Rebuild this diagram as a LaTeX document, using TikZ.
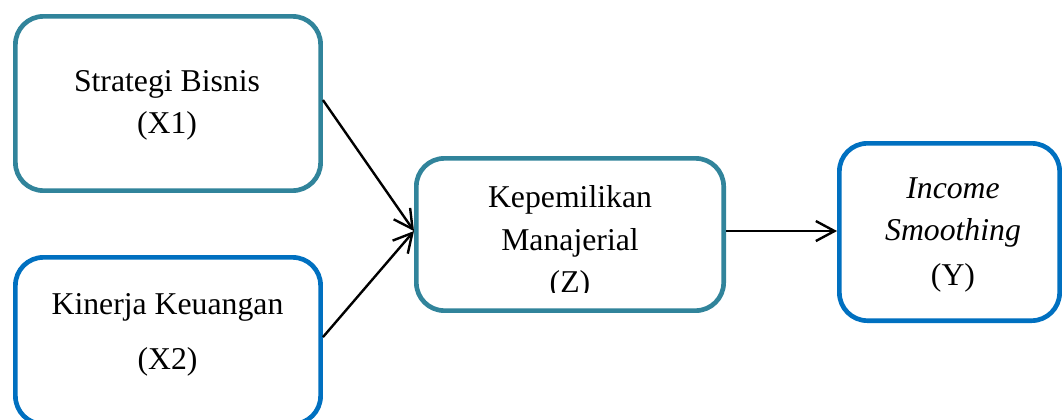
\documentclass[tikz,border=0pt]{standalone}
\usepackage{fontspec}
\setmainfont{Liberation Serif}
\usetikzlibrary{arrows.meta}
\definecolor{tealbox}{HTML}{31849B}
\definecolor{bluebox}{HTML}{0070C0}
\begin{document}
\begin{tikzpicture}[x=0.75pt,y=-0.75pt,
  box/.style={draw, line width=3.5pt, rounded corners=21pt, inner sep=0pt, fill=white},
  lbl/.style={anchor=base, inner sep=0pt, font=\fontsize{23.8pt}{28pt}\selectfont},
  arr/.style={draw=black, line width=1.8pt, -{Straight Barb[length=14pt,width=15pt,line width=1.8pt]}}]
\useasboundingbox (0,0) rectangle (1063,419);

% boxes (sizes given along the stroke centre line)
\node[box, draw=tealbox, minimum width=228.9pt, minimum height=130.7pt] (b1) at (168,103.5) {};
\node[box, draw=bluebox, minimum width=228.9pt, minimum height=125.0pt] (b2) at (168,340.7) {};
\node[box, draw=tealbox, minimum width=230.5pt, minimum height=114.2pt] (bz) at (570,234.5) {};
\node[box, draw=bluebox, minimum width=165.2pt, minimum height=133.0pt] (by) at (949.5,232) {};

% labels
\node[lbl] (t1a) at (167,91)  {Strategi Bisnis};
\node[lbl] (t1b) at (167,133) {(X1)};
\node[lbl] (t2a) at (167.5,314) {Kinerja Keuangan};
\node[lbl] (t2b) at (167.5,369) {(X2)};
\node[lbl] (tza) at (570,207) {Kepemilikan};
\node[lbl] (tzb) at (570,250) {Manajerial};
\begin{scope}
  \clip (420,255) rectangle (720,292);
  \node[lbl] (tzc) at (570,292) {(Z)};
\end{scope}
\node[lbl] (tya) at (953,198) {\itshape Income};
\node[lbl] (tyb) at (953,240) {\itshape Smoothing};
\node[lbl] (tyc) at (953,285) {(Y)};

% connectors
\coordinate (zin) at ([yshift=2.6pt]bz.west);
\draw[arr] ([yshift=2.6pt]b1.east) -- (zin);
\draw[arr] ([yshift=2.7pt]b2.east) -- (zin);
\draw[arr] ([yshift=2.6pt]bz.east) -- ([yshift=2.6pt]bz.east -| by.west);
\end{tikzpicture}
\end{document}
